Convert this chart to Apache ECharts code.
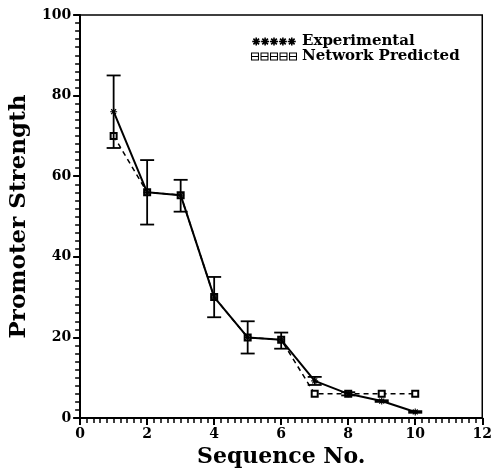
<!DOCTYPE html>
<html>
<head>
<meta charset="utf-8">
<script src="https://cdn.jsdelivr.net/npm/echarts@6/dist/echarts.min.js"></script>
<style>
  html, body { margin: 0; padding: 0; background: #fff; }
  #chart { width: 495px; height: 473px; }
</style>
</head>
<body>
<div id="chart"></div>
<script>
// sequence numbers
var seqNo = [1, 2, 3, 4, 5, 6, 7, 8, 9, 10];
// experimental promoter strength and its error bar ends
var experimental = [76, 56, 55.3, 30, 20, 19.4, 9.2, 6, 4.2, 1.5];
var errLow  = [67, 48, 51.2, 25, 16, 17.2, 8.2, 5.6, 4.0, 1.3];
var errHigh = [85, 64, 59.1, 35, 24, 21.2, 10.2, 6.4, 4.4, 1.7];
// network predicted strength
var predicted = [70, 56, 55.3, 30, 20, 19.4, 6, 6, 6, 6];

var xTicks = [0, 2, 4, 6, 8, 10, 12];
var yTicks = [0, 20, 40, 60, 80, 100];

var serif = 'DejaVu Serif';

// a little asterisk, and a row of them / squares for the legend
function starPath(cx, cy, r, w) {
  var d = '';
  for (var k = 0; k < 4; k++) {
    var a = k * Math.PI / 4, c = Math.cos(a), s = Math.sin(a);
    var pts = [[-r, -w], [r, -w], [r, w], [-r, w]].map(function (p) {
      return [cx + p[0] * c - p[1] * s, cy + p[0] * s + p[1] * c];
    });
    d += 'M' + pts.map(function (p) { return p[0].toFixed(2) + ',' + p[1].toFixed(2); }).join('L') + 'Z';
  }
  return d;
}
function squarePath(cx, cy, r) {
  var o = r, i = r - 1.1;
  return 'M' + (cx - o) + ',' + (cy - o) + 'L' + (cx + o) + ',' + (cy - o) + 'L' + (cx + o) + ',' + (cy + o) + 'L' + (cx - o) + ',' + (cy + o) + 'Z' +
         'M' + (cx - i) + ',' + (cy - i) + 'L' + (cx - i) + ',' + (cy + i) + 'L' + (cx + i) + ',' + (cy + i) + 'L' + (cx + i) + ',' + (cy - i) + 'Z' +
         'M' + (cx - i) + ',' + (cy - 0.4) + 'L' + (cx + i) + ',' + (cy - 0.4) + 'L' + (cx + i) + ',' + (cy + 0.4) + 'L' + (cx - i) + ',' + (cy + 0.4) + 'Z';
}
var starRow = '', squareRow = '';
for (var k = 0; k < 5; k++) {
  starRow += starPath(5 + 10 * k, 5, 4.5, 0.9);
  squareRow += squarePath(5 + 10 * k, 5, 4.2);
}

var expPts = seqNo.map(function (x, i) { return [x, experimental[i]]; });
var predPts = seqNo.map(function (x, i) { return [x, predicted[i]]; });
var errPts = seqNo.map(function (x, i) { return [x, errLow[i], errHigh[i]]; });

var chart = echarts.init(document.getElementById('chart'));
chart.setOption({
  animation: false,
  backgroundColor: '#fff',
  grid: {
    left: 77, right: 11, top: 15, bottom: 55,
    show: true, borderColor: '#000', borderWidth: 1.5
  },
  legend: {
    orient: 'vertical',
    left: 246, top: 29,
    itemWidth: 46, itemHeight: 8, itemGap: 0,
    lineStyle: { width: 0, opacity: 0 },
    textStyle: { fontFamily: serif, fontWeight: 'bold', fontSize: 15, color: '#000' },
    data: [
      { name: 'Experimental', icon: 'path://' + starRow, itemStyle: { color: '#000', borderWidth: 0 } },
      { name: 'Network Predicted', icon: 'path://' + squareRow, itemStyle: { color: '#000', borderWidth: 0 } }
    ]
  },
  xAxis: {
    type: 'value', min: xTicks[0], max: xTicks[xTicks.length - 1], interval: 2,
    name: 'Sequence No.', nameLocation: 'middle', nameGap: 24,
    nameTextStyle: { fontFamily: serif, fontWeight: 'bold', fontSize: 22, color: '#000' },
    axisLine: { lineStyle: { color: '#000', width: 2 } },
    axisTick: { inside: false, length: 7, lineStyle: { color: '#000', width: 2 } },
    minorTick: { show: true, splitNumber: 10, length: 5, lineStyle: { color: '#000', width: 1.5 } },
    axisLabel: { margin: 9, fontFamily: serif, fontWeight: 'bold', fontSize: 14, color: '#000' },
    splitLine: { show: false }
  },
  yAxis: {
    type: 'value', min: yTicks[0], max: yTicks[yTicks.length - 1], interval: 20,
    name: 'Promoter Strength', nameLocation: 'middle', nameGap: 40, nameRotate: 90,
    nameTextStyle: { fontFamily: serif, fontWeight: 'bold', fontSize: 23, color: '#000' },
    axisLine: { lineStyle: { color: '#000', width: 2 } },
    axisTick: { inside: false, length: 7, lineStyle: { color: '#000', width: 2 } },
    minorTick: { show: true, splitNumber: 10, length: 5, lineStyle: { color: '#000', width: 1.5 } },
    axisLabel: { margin: 9, fontFamily: serif, fontWeight: 'bold', fontSize: 14, color: '#000' },
    splitLine: { show: false }
  },
  series: [
    {
      name: 'Network Predicted', type: 'line', data: predPts, z: 2,
      lineStyle: { color: '#000', width: 1.5, type: [5, 4] },
      symbol: 'emptyRect', symbolSize: 6,
      itemStyle: { color: '#000', borderColor: '#000', borderWidth: 1.2 }
    },
    {
      name: 'Error', type: 'custom', data: errPts, z: 3,
      renderItem: function (params, api) {
        var x = api.value(0);
        var lo = api.coord([x, api.value(1)]);
        var hi = api.coord([x, api.value(2)]);
        var h = 7;
        var st = { stroke: '#000', lineWidth: 1.8 };
        return {
          type: 'group',
          children: [
            { type: 'line', shape: { x1: lo[0], y1: lo[1], x2: hi[0], y2: hi[1] }, style: st },
            { type: 'line', shape: { x1: lo[0] - h, y1: lo[1], x2: lo[0] + h, y2: lo[1] }, style: st },
            { type: 'line', shape: { x1: hi[0] - h, y1: hi[1], x2: hi[0] + h, y2: hi[1] }, style: st }
          ]
        };
      }
    },
    {
      name: 'Experimental', type: 'line', data: expPts, z: 4,
      lineStyle: { color: '#000', width: 2 },
      symbol: 'path://' + starPath(5, 5, 5, 0.8), symbolSize: 7,
      itemStyle: { color: '#000' }
    }
  ]
});
</script>
</body>
</html>
